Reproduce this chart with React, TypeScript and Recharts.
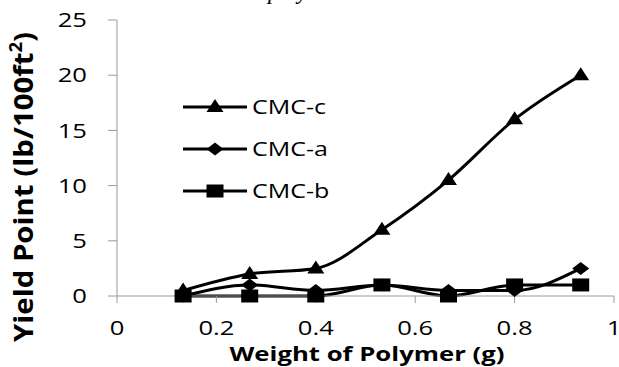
import React from "react"
import { LineChart, Line, XAxis, YAxis, Customized, Label } from "recharts"

const weights = [0.133, 0.267, 0.4, 0.533, 0.667, 0.8, 0.933]
const cmcC = [0.5, 2, 2.5, 6, 10.5, 16, 20]
const cmcA = [0, 1, 0.5, 1, 0.5, 0.5, 2.5]
const cmcB = [0, 0, 0, 1, 0, 1, 1]
const xTicks = [0, 0.2, 0.4, 0.6, 0.8, 1]
const yTicks = [0, 5, 10, 15, 20, 25]
const seriesNames = ["CMC-c", "CMC-a", "CMC-b"]

const data = weights.map((w, i) => ({ w, c: cmcC[i], a: cmcA[i], b: cmcB[i] }))

const FONT = "'Open Sans', 'DejaVu Sans', sans-serif"
const AXIS = "#9a9a9a"

const Triangle = ({ cx, cy }: any) => (
  <polygon points={`${cx},${cy - 8} ${cx - 8.5},${cy + 5} ${cx + 8.5},${cy + 5}`} fill="#000" />
)
const Diamond = ({ cx, cy }: any) => (
  <polygon points={`${cx},${cy - 6.5} ${cx + 8.5},${cy} ${cx},${cy + 6.5} ${cx - 8.5},${cy}`} fill="#000" />
)
const Square = ({ cx, cy }: any) => (
  <rect x={cx - 8.5} y={cy - 6.5} width={17} height={13} fill="#000" />
)

const YTick = ({ x, y, payload }: any) => (
  <text
    transform={`translate(${x},${y}) scale(1.28,1)`}
    textAnchor="end"
    dy="0.36em"
    fontFamily={FONT}
    fontSize={20}
    fill="#000"
  >
    {payload.value}
  </text>
)

const XTick = ({ x, y, payload }: any) => (
  <text
    transform={`translate(${x},${y + 25}) scale(1.28,1)`}
    textAnchor="middle"
    dy="0.36em"
    fontFamily={FONT}
    fontSize={20}
    fill="#000"
  >
    {payload.value}
  </text>
)

const markers = [Triangle, Diamond, Square]

const LegendBox = () => (
  <g>
    {seriesNames.map((name, i) => {
      const y = 107 + i * 42
      const M = markers[i]
      return (
        <g key={name}>
          <line x1={183} x2={247} y1={y} y2={y} stroke="#000" strokeWidth={3} />
          <M cx={215} cy={y} />
          <text
            transform={`translate(252,${y}) scale(1.25,1)`}
            dy="0.36em"
            fontFamily={FONT}
            fontSize={20}
            fill="#000"
          >
            {name}
          </text>
        </g>
      )
    })}
  </g>
)

export default function App() {
  return (
    <div style={{ position: "absolute", left: 0, top: 0, width: 619, height: 367, overflow: "hidden", background: "#fff" }}>
      <div
        style={{
          position: "absolute",
          left: 268,
          top: -20,
          fontFamily: "'Liberation Serif', serif",
          fontStyle: "italic",
          fontSize: 23,
          lineHeight: "23px",
          whiteSpace: "nowrap",
        }}
      >
        polymers.
      </div>
      <LineChart width={619} height={367} data={data} margin={{ top: 20, right: 5, bottom: 0, left: 0 }}>
        <XAxis
          dataKey="w"
          type="number"
          domain={[0, 1]}
          ticks={xTicks}
          height={71}
          stroke={AXIS}
          tickSize={7}
          tickMargin={0}
          tick={<XTick />}
        >
          <Label
            content={() => (
              <text
                x={367}
                y={361}
                textAnchor="middle"
                fontFamily={FONT}
                fontWeight="bold"
                fontSize={20}
                textLength={275}
                lengthAdjust="spacingAndGlyphs"
                fill="#000"
              >
                Weight of Polymer (g)
              </text>
            )}
          />
        </XAxis>
        <YAxis
          type="number"
          domain={[0, 25]}
          ticks={yTicks}
          width={117}
          stroke={AXIS}
          tickSize={9}
          tickMargin={21}
          tick={<YTick />}
        >
          <Label
            content={() => (
              <text
                transform="translate(33,187) rotate(-90)"
                textAnchor="middle"
                fontFamily={FONT}
                fontWeight="bold"
                fontSize={27}
                textLength={310}
                lengthAdjust="spacingAndGlyphs"
                fill="#000"
              >
                Yield Point (lb/100ft<tspan dy={-11} fontSize={17}>2</tspan><tspan dy={11}>)</tspan>
              </text>
            )}
          />
        </YAxis>
        <Line
          dataKey="c"
          name="CMC-c"
          type="monotone"
          stroke="#000"
          strokeWidth={3}
          dot={<Triangle />}
          isAnimationActive={false}
        />
        <Line
          dataKey="a"
          name="CMC-a"
          type="monotone"
          stroke="#000"
          strokeWidth={3}
          dot={<Diamond />}
          isAnimationActive={false}
        />
        <Line
          dataKey="b"
          name="CMC-b"
          type="monotone"
          stroke="#000"
          strokeWidth={3}
          dot={<Square />}
          isAnimationActive={false}
        />
        <Customized component={LegendBox} />
      </LineChart>
    </div>
  )
}
